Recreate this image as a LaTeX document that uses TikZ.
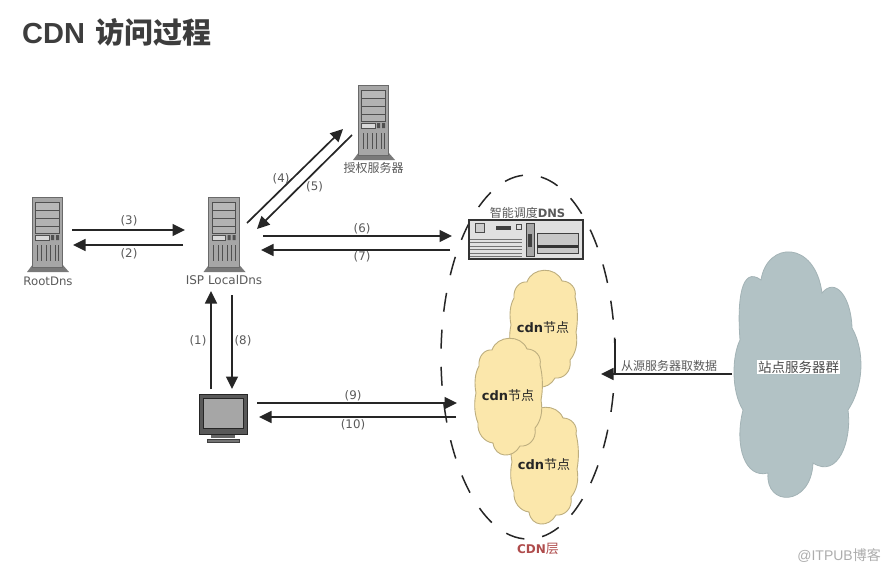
\documentclass[tikz,border=0pt]{standalone}
\usepackage{fontspec}
\setmainfont{DejaVu Sans}
\newfontfamily\cjk{Noto Sans CJK SC}
\newfontfamily\helv{Liberation Sans}
\usetikzlibrary{arrows.meta,calc}
\definecolor{arrowc}{HTML}{262626}
\definecolor{labelc}{HTML}{5A5A5A}
\definecolor{srvbody}{HTML}{A6A6A6}
\definecolor{srvedge}{HTML}{6A6A6A}
\definecolor{srvdark}{HTML}{505050}
\definecolor{cdnfill}{HTML}{FBE7AB}
\definecolor{cdnedge}{HTML}{BDAE7E}
\definecolor{sitefill}{HTML}{B2C2C5}
\definecolor{siteedge}{HTML}{A3B3B6}
\tikzset{
  x=1pt,y=-1pt,
  conn/.style={draw=arrowc,line width=1.7pt,-{Triangle[length=12.5pt,width=12pt]}},
  plainline/.style={draw=arrowc,line width=1.7pt},
  numlabel/.style={text=labelc,font=\fontsize{11.8}{13}\selectfont,inner sep=0pt},
  srvlabel/.style={text=labelc,font=\fontsize{12}{14}\selectfont,inner sep=0pt},
  cjklabel/.style={text=labelc,font=\cjk\fontsize{12}{14}\selectfont,inner sep=0pt},
  cdnlabel/.style={text=black!85,inner sep=0pt},
}
\newcommand{\serverat}[3]{%
  \begin{scope}[shift={(#1,#2)}]
    \fill[srvedge!90] (1,67) -- (-5,75) -- (37,75) -- (30,67) -- cycle;
    \filldraw[fill=srvbody,draw=srvedge,line width=.9pt] (0,0) rectangle (30.5,70);
    \filldraw[fill=white!72!black,draw=srvdark,line width=.9pt] (3.5,5) rectangle (27,13);
    \filldraw[fill=white!70!black,draw=srvdark,line width=.9pt] (3.5,13) rectangle (27,21);
    \filldraw[fill=white!70!black,draw=srvdark,line width=.9pt] (3.5,21) rectangle (27,29);
    \filldraw[fill=white!70!black,draw=srvdark,line width=.9pt] (3.5,29) rectangle (27,36);
    \filldraw[fill=white!85!black,draw=srvdark,line width=.7pt] (3.5,38) rectangle (17,43);
    \fill[srvdark] (19,38) rectangle (22,43) (24,38) rectangle (27,43);
    \foreach \vx in {5,9.5,14,18.5,23,26.5}
      \draw[srvdark,line width=.9pt] (\vx,48) -- (\vx,64);
    \node[inner sep=0pt,minimum width=31pt,minimum height=70pt] (#3) at (15,35) {};
  \end{scope}}
\newcommand{\cdncloud}[3]{%
  \begin{scope}[shift={(#1,#2)}]
    \filldraw[fill=cdnfill,draw=cdnedge,line width=.9pt]
      (17,12) .. controls (22,-3) and (46,-4) .. (52,11)
      .. controls (60,11) and (67,18) .. (65,27)
      .. controls (68,38) and (68,52) .. (66,62)
      .. controls (68,73) and (66,83) .. (60,90)
      .. controls (62,102) and (53,109) .. (45,108)
      .. controls (38,121) and (20,120) .. (18,105)
      .. controls (9,104) and (2,95) .. (3,85)
      .. controls (-1,75) and (-1,64) .. (1,55)
      .. controls (-1,45) and (0,35) .. (4,28)
      .. controls (3,18) and (10,11) .. (17,12) -- cycle;
    \node[cdnlabel] (#3) at (33,58) {\fontsize{13}{15}\selectfont\bfseries cdn\cjk\mdseries\fontsize{13}{15}\selectfont 节点};
  \end{scope}}
\begin{document}
\begin{tikzpicture}
\useasboundingbox (0,0) rectangle (890,571);
\fill[white] (0,0) rectangle (890,571);

% title
\node[anchor=west,inner sep=0pt,text=black!76] (title) at (22,32) {\helv\bfseries\fontsize{29}{34}\selectfont CDN\hspace{10pt}\cjk\bfseries\fontsize{29}{34}\selectfont 访问过程};
\node[anchor=east,inner sep=0pt,text=black!32] (mark) at (881,555.5) {\fontsize{14}{16}\selectfont\helv @ITPUB\cjk 博客};

% servers
\serverat{32}{197}{root}
\serverat{208.5}{197}{local}
\serverat{358}{85}{auth}
\node[srvlabel,font=\fontsize{11.7}{14}\selectfont] (rootlbl) at (48,281) {RootDns};
\node[srvlabel] (locallbl) at (224,280) {ISP LocalDns};
\node[cjklabel] (authlbl) at (373.5,168) {授权服务器};

% CDN ellipse
\draw[arrowc,line width=1.5pt,dash pattern=on 19pt off 18.1pt,dash phase=1pt] (528,357) ellipse [x radius=87,y radius=182];

% DNS rack
\begin{scope}[shift={(469,220)}]
  \filldraw[fill=white!88!black,draw=black!80,line width=1.3pt] (0,0) rectangle (114,39);
  \draw[black!70,line width=1pt,fill=white!80!black] (6,3) rectangle (15,12);
  \fill[black!75] (27,6) rectangle (42,10);
  \draw[black!70,line width=1pt] (47,4) rectangle (52,9);
  \foreach \ly in {19,22.5,26,29.5,33,36} \draw[black!55,line width=1pt] (1,\ly) -- (53,\ly);
  \filldraw[fill=white!65!black,draw=black!75,line width=.9pt] (57,3) rectangle (65,36);
  \fill[black!75] (59,14) rectangle (63,27);
  \filldraw[fill=white!78!black,draw=black!75,line width=1pt] (68,13) rectangle (109,33);
  \fill[black!80] (68,25) rectangle (109,28);
  \node[inner sep=0pt,minimum width=114pt,minimum height=39pt] (dns) at (57,19.5) {};
\end{scope}
\node[inner sep=0pt,text=labelc] (dnslbl) at (527.5,213) {\cjk\fontsize{12}{14}\selectfont 智能调度\rmfamily\bfseries\fontsize{11.5}{14}\selectfont DNS};

% CDN clouds
\cdncloud{510}{270}{c1}
\cdncloud{511}{407}{c3}
\cdncloud{475}{338}{c2}
\node[inner sep=0pt,text=red!55!black!70!white] (cdnlayer) at (538,549) {\fontsize{12}{14}\selectfont\bfseries CDN\cjk\mdseries\fontsize{13}{15}\selectfont 层};

% site cloud
\begin{scope}[shift={(735,251)}]
  \filldraw[fill=sitefill,draw=siteedge,line width=.8pt]
    (26,29) .. controls (32,-10) and (80,-11) .. (87,42)
    .. controls (100,26) and (116,45) .. (117,77)
    .. controls (130,100) and (129,135) .. (113,159)
    .. controls (117,190) and (103,228) .. (78,212)
    .. controls (76,256) and (30,256) .. (33,222)
    .. controls (10,228) and (-1,195) .. (8,159)
    .. controls (-4,140) and (-3,105) .. (5,89)
    .. controls (2,50) and (6,14) .. (26,29) -- cycle;
\end{scope}
\node[fill=white,inner sep=1pt,text=black!70,font=\cjk\fontsize{13.5}{15}\selectfont] (site) at (798.5,367) {站点服务器群};

% monitor
\begin{scope}[shift={(199,394)}]
  \fill[black!60] (12,39) rectangle (36,44);
  \filldraw[fill=black!55,draw=black!75,line width=.8pt] (8,45) rectangle (40,48.5);
  \filldraw[fill=black!65,draw=black!85,line width=1pt] (0,0) rectangle (48,40);
  \filldraw[fill=white!65!black,draw=black!85,line width=.8pt] (4.5,4.5) rectangle (44,34);
  \node[inner sep=0pt,minimum width=48pt,minimum height=40pt] (pc) at (24,20) {};
\end{scope}

% connector ends
\coordinate (a3s) at (72,230);   \coordinate (a3e) at (185,230);
\coordinate (a2s) at (183,245);  \coordinate (a2e) at (73,245);
\coordinate (a4s) at (247,223);  \coordinate (a4e) at (343,129);
\coordinate (a5s) at (352,135);  \coordinate (a5e) at (257,229);
\coordinate (a6s) at (263,236);  \coordinate (a6e) at (452,236);
\coordinate (a7s) at (450,250);  \coordinate (a7e) at (261,250);
\coordinate (a1s) at (211,389);  \coordinate (a1e) at (211,291);
\coordinate (a8s) at (232,295);  \coordinate (a8e) at (232,389);
\coordinate (a9s) at (257,403);  \coordinate (a9e) at (457,403);
\coordinate (a10s) at (456,417); \coordinate (a10e) at (259,417);
\coordinate (fs) at (732,374);   \coordinate (fe) at (601,374);
\coordinate (vs) at (615,339);   \coordinate (ve) at (615,374);

\draw[conn] (a3s) -- (a3e);
\draw[conn] (a2s) -- (a2e);
\draw[conn] (a4s) -- (a4e);
\draw[conn] (a5s) -- (a5e);
\draw[conn] (a6s) -- (a6e);
\draw[conn] (a7s) -- (a7e);
\draw[conn] (a1s) -- (a1e);
\draw[conn] (a8s) -- (a8e);
\draw[conn] (a9s) -- (a9e);
\draw[conn] (a10s) -- (a10e);
\draw[conn] (fs) -- (fe);
\draw[plainline] (vs) -- (ve);

% labels
\node[numlabel] (l3) at (129,221) {(3)};
\node[numlabel] (l2) at (129,254) {(2)};
\node[numlabel] (l4) at (281,179) {(4)};
\node[numlabel] (l5) at (314.5,187) {(5)};
\node[numlabel] (l6) at (362,229) {(6)};
\node[numlabel] (l7) at (362,257) {(7)};
\node[numlabel] (l1) at (198,341) {(1)};
\node[numlabel] (l8) at (243,341) {(8)};
\node[numlabel] (l9) at (353,396) {(9)};
\node[numlabel] (l10) at (353,425) {(10)};
\node[cjklabel] (fetch) at (669,366) {从源服务器取数据};
\end{tikzpicture}
\end{document}
